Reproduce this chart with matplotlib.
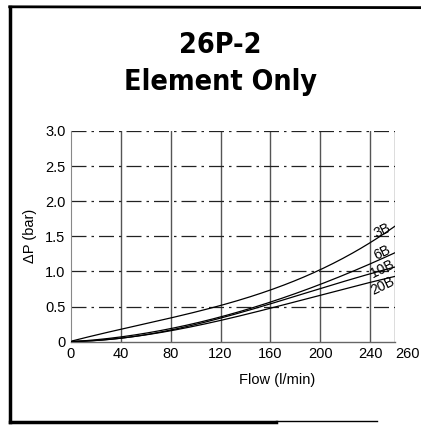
import numpy as np
import matplotlib
matplotlib.use('Agg')
from matplotlib import pyplot as plt
from matplotlib.lines import Line2D
from matplotlib.transforms import ScaledTranslation

plt.rcParams['font.family'] = ['Liberation Sans', 'DejaVu Sans']

flow = [0, 40, 80, 120, 160, 200, 240, 260]
dp_3b = [0, 0.19, 0.34, 0.50, 0.74, 1.02, 1.43, 1.63]
dp_6b = [0, 0.07, 0.18, 0.36, 0.56, 0.82, 1.10, 1.27]
dp_10b = [0, 0.06, 0.17, 0.33, 0.52, 0.77, 0.98, 1.05]
dp_20b = [0, 0.05, 0.16, 0.30, 0.47, 0.67, 0.84, 0.93]
names = ['3B', '6B', '10B', '20B']
label_y = [1.58, 1.27, 1.03, 0.80]

xticks = [0, 40, 80, 120, 160, 200, 240, 260]
yticks = [0, 0.5, 1.0, 1.5, 2.0, 2.5, 3.0]
yticklabels = ['0', '0.5', '1.0', '1.5', '2.0', '2.5', '3.0']

graph = plt.figure(figsize=(4.21, 4.25), dpi=100)
out = graph.add_axes([0.1686, 0.196, 0.7696, 0.496])

# grid
for x in xticks[1:]:
    out.axvline(x, color='#555555', lw=1.0, zorder=1)
for y in yticks[1:]:
    out.axhline(y, color='#222222', lw=0.9, ls=(0, (12, 4, 2, 4)), zorder=1)

xs = np.linspace(0, 260, 200)
for ys in [dp_3b, dp_6b, dp_10b, dp_20b]:
    c = np.polyfit(flow, ys, 3)
    yy = np.polyval(c, xs)
    yy[0] = 0
    out.plot(xs, yy, 'k', lw=0.9, zorder=3)

for n, ly in zip(names, label_y):
    out.text(250, ly, n, fontsize=10, rotation=26, ha='center', va='center', zorder=4)

out.set_xlim(0, 260)
out.set_ylim(0, 3.0)
out.set_xticks(xticks)
out.set_yticks(yticks)
out.set_yticklabels(yticklabels)
out.tick_params(length=0, labelsize=10.5, pad=4)
# last flow label sits off to the right in the original
lab = out.get_xticklabels()[-1]
lab.set_transform(lab.get_transform() + ScaledTranslation(0.13, 0, graph.dpi_scale_trans))
for s in ['top', 'right']:
    out.spines[s].set_visible(False)
out.spines['left'].set_color('#888888')
out.spines['bottom'].set_color('#666666')
out.spines['left'].set_linewidth(0.8)
out.spines['bottom'].set_linewidth(1.0)

out.set_xlabel('Flow (l/min)', fontsize=10.5)
out.xaxis.set_label_coords(0.635, -0.15)
out.set_ylabel('ΔP (bar)', fontsize=10.5, labelpad=6)

graph.text(0.523, 0.875, '26P-2', fontsize=20.5, fontweight='bold', ha='center', va='baseline',
           family='DejaVu Sans', fontstretch='condensed')
graph.text(0.523, 0.788, 'Element Only', fontsize=20.5, fontweight='bold', ha='center', va='baseline',
           family='DejaVu Sans', fontstretch='condensed')

# outer frame
graph.add_artist(Line2D([0.023, 0.023], [0.008, 0.984], color='k', lw=2.5, transform=graph.transFigure))
graph.add_artist(Line2D([0.023, 1.0], [0.984, 0.982], color='k', lw=2.0, transform=graph.transFigure))
graph.add_artist(Line2D([0.023, 0.655], [0.008, 0.008], color='k', lw=2.5, transform=graph.transFigure))
graph.add_artist(Line2D([0.655, 0.895], [0.009, 0.009], color='k', lw=1.0, transform=graph.transFigure))

graph.savefig('out.png', dpi=100)
